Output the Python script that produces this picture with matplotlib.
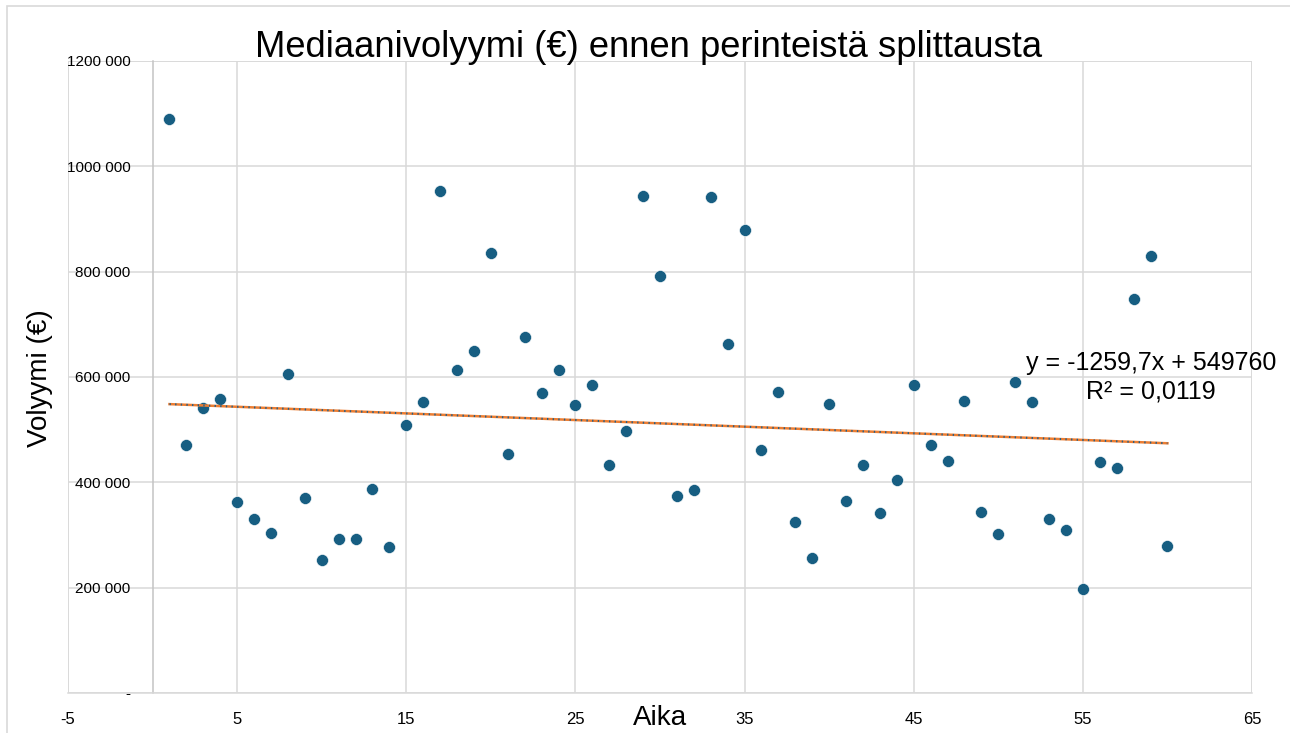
import matplotlib.pyplot as plt
from matplotlib.patches import Rectangle

# Aika (x) ja mediaanivolyymi (y)
aika = [1, 2, 3, 4, 5, 6, 7, 8, 9, 10,
        11, 12, 13, 14, 15, 16, 17, 18, 19, 20,
        21, 22, 23, 24, 25, 26, 27, 28, 29, 30,
        31, 32, 33, 34, 35, 36, 37, 38, 39, 40,
        41, 42, 43, 44, 45, 46, 47, 48, 49, 50,
        51, 52, 53, 54, 55, 56, 57, 58, 59, 60]
volyymi = [1090000, 471000, 542000, 558000, 362000, 331000, 304000, 606000, 371000, 253000,
           293000, 293000, 387000, 278000, 508000, 553000, 954000, 614000, 649000, 835000,
           453000, 675000, 570000, 614000, 547000, 585000, 432000, 497000, 944000, 792000,
           374000, 385000, 942000, 662000, 879000, 462000, 572000, 324000, 257000, 549000,
           365000, 433000, 341000, 404000, 585000, 471000, 440000, 554000, 343000, 301000,
           590000, 552000, 330000, 310000, 198000, 438000, 428000, 748000, 829000, 280000]

# trendiviivan kertoimet (Excelin lineaarinen trendi)
trend_slope = -1259.7
trend_intercept = 549760

x_ticks = [-5, 5, 15, 25, 35, 45, 55, 65]
y_ticks = [0, 200000, 400000, 600000, 800000, 1000000, 1200000]
y_tick_labels = ["-", "200 000", "400 000", "600 000", "800 000", "1000 000", "1200 000"]

plt.rcParams["font.family"] = ["Liberation Sans", "DejaVu Sans"]
plt.rcParams["axes.unicode_minus"] = False

fig = plt.figure(figsize=(12.9, 7.33), dpi=100)
ax = fig.add_axes([68 / 1290, 1 - 693 / 733, (1252 - 68) / 1290, (693 - 61) / 733])

# kaavion ulkoreunus
fig.patches.append(Rectangle((7 / 1290, -0.05), 1.1, 1 - 6 / 733 + 0.05, transform=fig.transFigure,
                             fill=False, edgecolor="#d9d9d9", linewidth=1.2, zorder=0))

grid_col = "#d9d9d9"
ax.set_xlim(-5, 65)
ax.set_ylim(0, 1200000)
ax.set_xticks(x_ticks)
ax.set_yticks(y_ticks)
ax.set_yticklabels(y_tick_labels)
ax.grid(True, color=grid_col, linewidth=1.1, zorder=0)
ax.tick_params(axis="both", length=0, labelsize=12, colors="black")
ax.tick_params(axis="x", pad=14)
ax.tick_params(axis="y", pad=16, labelsize=11)
for name, sp in ax.spines.items():
    sp.set_color(grid_col)
    sp.set_linewidth(1.1)
ax.spines["left"].set_position(("data", 0))
ax.spines["left"].set_color("#c4c4c4")
ax.spines["top"].set_visible(False)
ax.spines["right"].set_visible(False)
ax.axvline(-5, color=grid_col, linewidth=1.1, zorder=0)
ax.axvline(65, color=grid_col, linewidth=1.1, zorder=0)
ax.axhline(1200000, color=grid_col, linewidth=1.1, zorder=0)

ax.plot(aika, volyymi, "o", color="#175e82", markersize=8.6, markeredgecolor="white",
        markeredgewidth=0.4, zorder=3, clip_on=False)

# trendiviiva: oranssi viiva + sininen pisteviiva päällä
tx = [min(aika), max(aika)]
ty = [trend_slope * v + trend_intercept for v in tx]
ax.plot(tx, ty, "-", color="#ed7d31", linewidth=1.8, zorder=4)
ax.plot(tx, ty, color="#1f5f8b", linewidth=1.4, dashes=(0.7, 2.2), zorder=5)

fig.text(0.503, 1 - 57 / 733, "Mediaanivolyymi (€) ennen perinteistä splittausta",
         ha="center", va="baseline", fontsize=26.2)
ax.text(0.5, -25 / 632, "Aika", transform=ax.transAxes, ha="center", va="center", fontsize=20)
ax.text(-28 / 1184, 0.498, "Volyymi (€)", transform=ax.transAxes, rotation=90,
        ha="center", va="center", fontsize=20)

fig.text(1151 / 1290, 1 - 370 / 733, "y = -1259,7x + 549760", ha="center", va="baseline", fontsize=18)
fig.text(1151 / 1290, 1 - 398 / 733, "R² = 0,0119", ha="center", va="baseline", fontsize=18)

fig.savefig("out.png", dpi=100)
